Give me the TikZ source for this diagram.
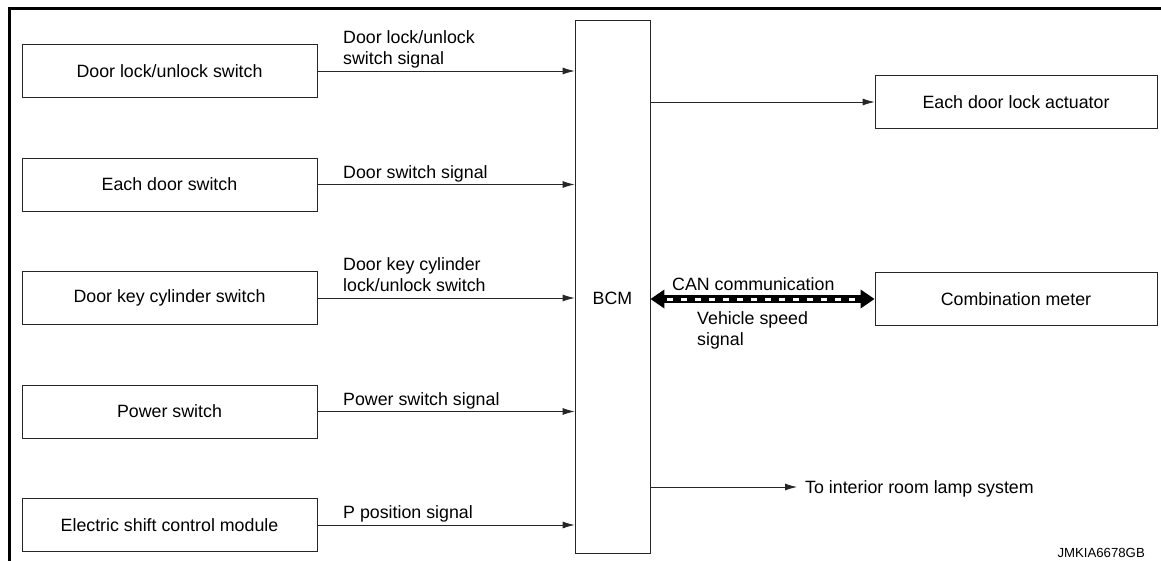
\documentclass[tikz,border=0pt]{standalone}
\usepackage{fontspec}
\setmainfont{Liberation Sans}
\usetikzlibrary{arrows.meta}

\begin{document}
\begin{tikzpicture}[x=1pt, y=-1pt,
    font=\fontsize{17.8}{21}\selectfont,
    unitbox/.style={draw=black!85, line width=0.8pt, minimum height=53pt, inner sep=0pt},
    sig/.style={anchor=south west, align=left, inner sep=0pt, text depth=5pt},
    flow/.style={draw=black!85, line width=0.8pt, -{Latex[length=12pt,width=7pt]}}]
    \useasboundingbox (0, 0) rectangle (1161, 561);
    % frame
    \draw [line width=3pt] (9, 561) -- (9, 9) -- (1161, 9);
    % BCM
    \node (bcm) [unitbox, minimum width=75pt, minimum height=533pt,
      label={[yshift=-11.5pt]center:BCM}] at (612.5, 286.5) {};
    % inputs
    \foreach \i/\y/\name/\signal in {
        1/71/{Door lock/unlock switch}/{Door lock/unlock\\switch signal},
        2/184.5/{Each door switch}/{Door switch signal},
        3/298/{Door key cylinder switch}/{Door key cylinder\\lock/unlock switch},
        4/411.5/{Power switch}/{Power switch signal},
        5/525/{Electric shift control module}/{P position signal}} {
      \node (src\i) [unitbox, minimum width=295pt] at (169.5, \y) {\name};
      \draw [flow] (src\i.east) -- (src\i.east -| bcm.west);
      \node (sig\i) [sig] at (343, \y - 1) {\signal};
    }
    % outputs
    \node (act) [unitbox, minimum width=282pt] at (1016, 102) {Each door lock actuator};
    \node (meter) [unitbox, minimum width=282pt] at (1016, 299) {Combination meter};
    \draw [flow] (bcm.east |- act.west) -- (act.west);
    % CAN line
    \draw [line width=8pt, {Triangle[length=14pt,width=18pt]}-{Triangle[length=14pt,width=18pt]}]
      (bcm.east |- meter.west) -- (meter.west);
    \draw [white, line width=3pt, dash pattern=on 6pt off 8pt,
      shorten <=17pt, shorten >=17pt] (bcm.east |- meter.west) -- (meter.west);
    \node (can) [anchor=base west, inner sep=0pt] at (672, 290) {CAN communication};
    \node (speed) [sig] at (697, 351) {Vehicle speed\\signal};
    % room lamp
    \node (lamp) [anchor=west, inner xsep=8pt, inner ysep=0pt, text height=12.7pt,
      text depth=0pt] at (797, 487) {To interior room lamp system};
    \draw [flow] (bcm.east |- lamp.west) -- (lamp.west);
    %
    \node (code) [anchor=base east, inner sep=0pt, font=\fontsize{13.2}{15}\selectfont]
      at (1145, 557) {JMKIA6678GB};
\end{tikzpicture}
\end{document}
